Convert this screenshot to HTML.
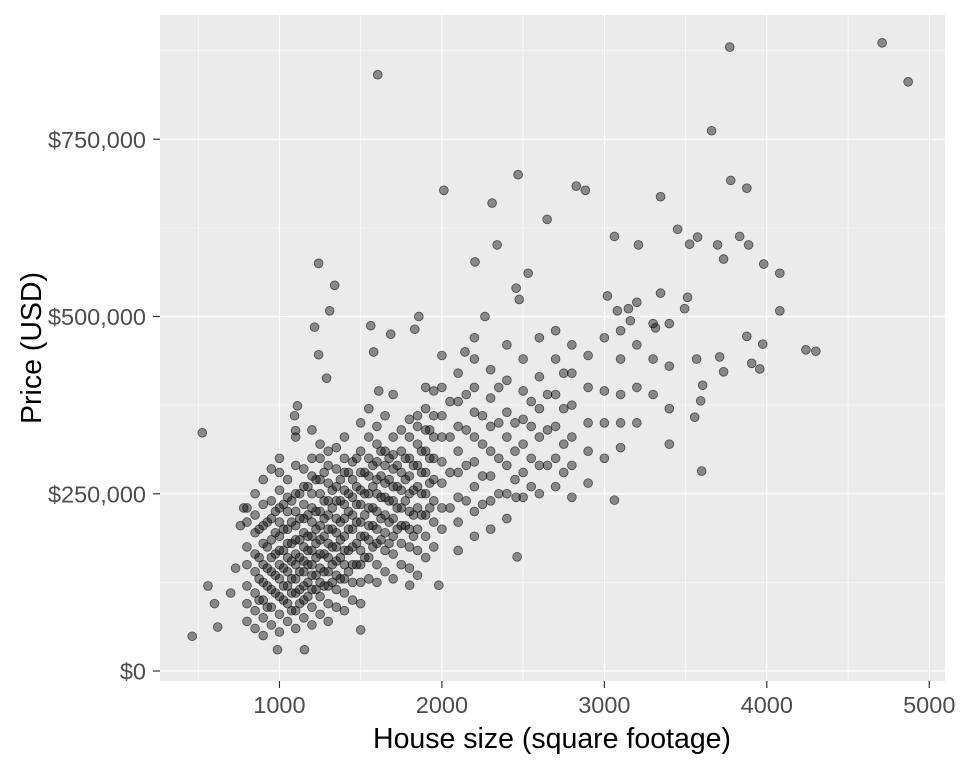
<!DOCTYPE html>
<html><head><meta charset="utf-8"><style>
body{margin:0;background:#fff;}
svg text{font-family:"Liberation Sans",sans-serif;}
</style></head><body>
<svg id="chart" width="960" height="768">
<rect x="160" y="15" width="785" height="666" fill="#ebebeb"/>
<g id="grid"></g><g id="pts"></g><g id="axes"></g>
<text x="552" y="748" font-size="28.5" text-anchor="middle">House size (square footage)</text>
<text transform="translate(41,348) rotate(-90)" font-size="28.5" text-anchor="middle">Price (USD)</text>
</svg>
<script>
const xTicks=[1000,2000,3000,4000,5000];
const yTicks=[0,250000,500000,750000];
const yTickLabels=["$0","$250,000","$500,000","$750,000"];
const outliers=[[463,49],[525,336],[1605,841],[3772,880],[4710,886],[4870,831],[3660,762],[3778,692],[3877,681],[3346,669],[2827,684],[2883,678],[2469,700],[2012,678],[2309,660],[2648,637],[2340,601],[1241,575],[1340,544],[1309,508],[2204,577],[2531,561],[2457,540],[3062,613],[3210,601],[3451,623],[3574,612],[3525,602],[3697,601],[3734,581],[3833,613],[3888,601],[3981,574],[4080,561],[4080,508],[4241,453],[4302,451],[3975,461],[3877,472],[3907,434],[3957,426],[3734,422],[3710,443],[3568,440],[3605,403],[3593,381],[3556,358],[3599,282],[3062,241],[3019,529],[3148,511],[3346,533],[3494,511],[3512,527],[3315,484],[3160,494],[3080,508],[2457,245],[2463,161],[1802,121],[1981,121],[988,30],[1154,30],[1500,58],[1216,485],[1562,487],[1685,475],[1580,450],[1241,446],[1290,413],[1611,395],[1833,482],[1858,500],[2142,450],[2476,524],[2265,500],[1111,374],[1093,360],[1099,339],[560,120],[600,95],[620,62],[700,110],[730,145],[760,205],[780,230]];
const sizeGroups=[800,850,900,950,1000,1050,1100,1150,1200,1250,1300,1350,1400,1450,1500,1550,1600,1650,1700,1750,1800,1850,1900,1950,2000,2100,2200,2300,2400,2500,2600,2700,2800,2900,3000,3100,3200,3300,3400];
const priceGroups=[[70,95,120,150,175,210,230],[60,85,110,140,165,195,220,250],[50,75,100,125,150,180,205,235,270],[65,90,115,140,160,185,215,240,285],[55,80,105,130,150,170,190,210,230,255,280,300],[70,95,120,140,160,180,200,225,245,270],[60,85,110,130,150,165,185,205,225,250,290,330],[75,100,120,140,155,175,195,215,235,260,285],[65,90,115,135,150,170,190,210,230,250,275,300,340],[80,105,125,145,165,185,205,225,250,270,300,320],[70,95,120,140,160,180,200,220,240,265,290,310],[90,115,135,155,175,195,215,240,260,285,315],[85,110,130,150,170,190,215,235,255,280,300,330],[100,125,150,175,200,220,245,270,295],[95,125,150,170,190,210,235,255,280,310,350],[130,160,185,205,230,250,275,300,330,370],[125,150,180,200,225,250,270,295,320,345],[140,170,195,220,245,265,290,310,360],[130,165,190,215,240,260,285,305,330,390],[150,180,205,230,255,280,310,340],[145,175,200,225,250,275,300,330,355],[135,170,200,230,260,290,320,345,360],[160,190,220,250,280,310,340,370,400],[175,210,240,270,300,330,360,395],[200,230,265,295,330,360,400,445],[170,210,245,280,310,345,380,420],[190,225,260,295,330,365,400,440,470],[200,240,275,310,345,385,425],[215,250,290,330,365,410,460],[245,280,320,355,395,440],[250,290,330,370,415,470],[260,300,345,390,440,480],[245,290,330,375,420,460],[265,310,350,400,445],[300,350,395,470],[315,350,390,440,480],[350,400,460,520],[390,440,490],[320,370,430,490]];
const coreSizes=[875,925,975,1025,1075,1125,1175,1225,1275,1325,1375,1425,1475,1525,1575,1625,1675,1725,1775,1825,1875,1925,2050,2150,2250,2350,2450,2550,2650,2750];
const corePrices=[[100,130,160,200],[90,120,145,175,210],[110,135,165,195,225],[100,120,145,170,200,235],[85,110,130,155,180,210,240],[95,115,140,160,185,215,250],[105,125,150,170,190,220,260],[115,135,160,180,200,225,270],[120,140,165,190,215,240,280],[125,150,175,200,230,255],[130,160,185,210,240,270],[140,170,200,225,250,280],[150,180,210,235,260,300],[160,190,220,250,280],[175,205,230,260,290],[185,215,245,275,310],[180,210,240,270,300],[200,230,260,290],[205,240,270,300],[190,220,255,290],[220,250,280,310],[230,265,300,340],[230,280,330,380],[240,290,340,390],[235,275,320,360],[250,300,350,400],[270,310,350],[260,300,345,380],[290,340,390],[280,320,370,420]];
const NS="http://www.w3.org/2000/svg";
const X=v=>117+v*0.16245;
const Y=v=>671-v*0.000709;
function mk(tag,attrs,parent){const e=document.createElementNS(NS,tag);for(const k in attrs)e.setAttribute(k,attrs[k]);parent.appendChild(e);return e;}
const grid=document.getElementById('grid'),axes=document.getElementById('axes'),pts=document.getElementById('pts');
for(let i=0;i<xTicks.length;i++){const v=xTicks[i];
 const m=mk('line',{x1:X(v-500),x2:X(v-500),y1:15,y2:681,stroke:'#fff','stroke-width':0.6},grid);
 
 const g=mk('line',{x1:X(v),x2:X(v),y1:15,y2:681,stroke:'#fff','stroke-width':1.2},grid);
 
 const t=mk('line',{x1:X(v),x2:X(v),y1:681,y2:688,stroke:'#333','stroke-width':1.2},axes);
 
 const l=mk('text',{x:X(v),y:713,'font-size':23.5,'text-anchor':'middle',fill:'#4d4d4d'},axes);l.textContent=v;
 }
for(let i=0;i<yTicks.length;i++){const v=yTicks[i];
 if(i>0){const m=mk('line',{x1:160,x2:945,y1:Y(v-125000),y2:Y(v-125000),stroke:'#fff','stroke-width':0.6},grid);
 }
 const g=mk('line',{x1:160,x2:945,y1:Y(v),y2:Y(v),stroke:'#fff','stroke-width':1.2},grid);
 
 const t=mk('line',{x1:153,x2:160,y1:Y(v),y2:Y(v),stroke:'#333','stroke-width':1.2},axes);
 
 const l=mk('text',{x:146,y:Y(v)+8.5,'font-size':23.5,'text-anchor':'end',fill:'#4d4d4d'},axes);l.textContent=yTickLabels[i];
 }
{const m=mk('line',{x1:160,x2:945,y1:Y(875000),y2:Y(875000),stroke:'#fff','stroke-width':0.6},grid);
 }
function dot(s,p){const c=mk('circle',{cx:X(s),cy:Y(p*1000),r:4.4,fill:'rgba(0,0,0,0.42)',stroke:'rgba(0,0,0,0.6)','stroke-width':0.8},pts);
 }
for(let i=0;i<sizeGroups.length;i++)for(const p of priceGroups[i])dot(sizeGroups[i],p);
for(let i=0;i<coreSizes.length;i++)for(const p of corePrices[i])dot(coreSizes[i],p);
for(const o of outliers)dot(o[0],o[1]);
</script>
</body></html>
